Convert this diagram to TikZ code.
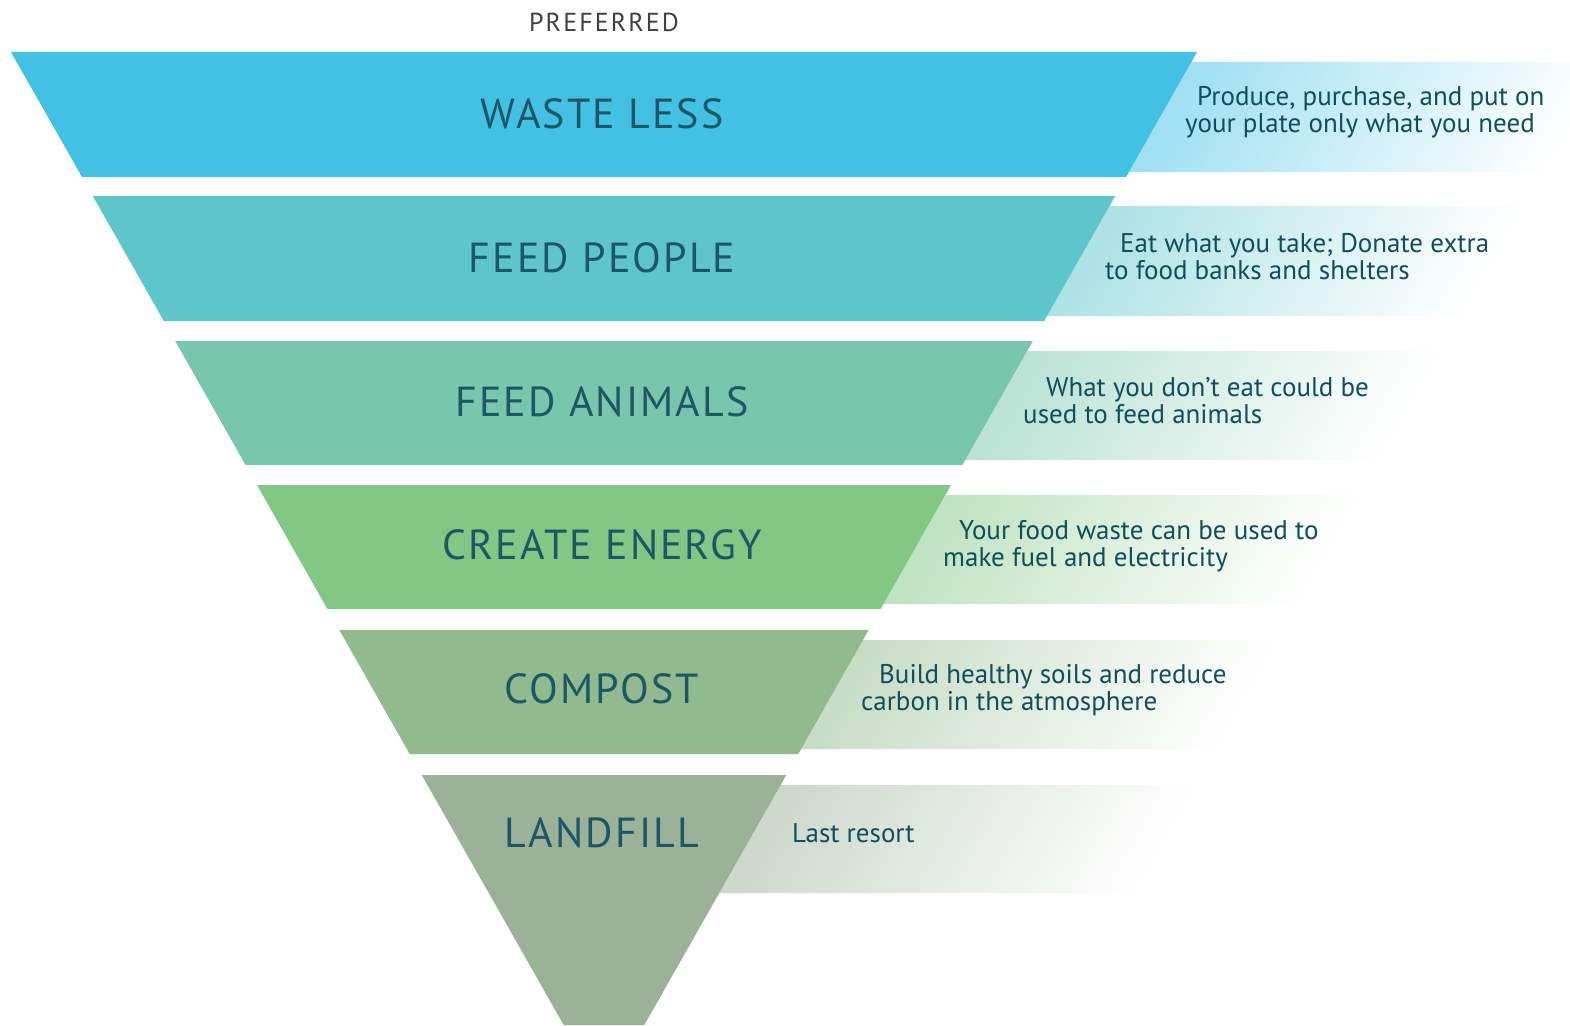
\documentclass[tikz,border=0pt]{standalone}
\usepackage{fontspec}
\setmainfont{PT Sans}
\usepackage{tikz}
\usetikzlibrary{positioning}
\definecolor{wasteblue}{HTML}{42C1E4}
\definecolor{peopleteal}{HTML}{5EC5CB}
\definecolor{animalgreen}{HTML}{78C6AC}
\definecolor{energygreen}{HTML}{82C784}
\definecolor{compostgreen}{HTML}{91BB8E}
\definecolor{landfillgray}{HTML}{9BB298}
\definecolor{leveltext}{HTML}{1D5766}
\definecolor{notetext}{HTML}{0F4E5A}
\tikzstyle{level} = [text=leveltext, inner sep=0pt,
    font=\fontsize{42}{46}\selectfont\addfontfeature{LetterSpace=5}]
\tikzstyle{note} = [text=notetext, anchor=west, align=left, inner sep=0pt,
    font=\fontsize{27}{27}\selectfont]
\tikzstyle{notebox} = [bottom color=white, shading angle=60]
\tikzstyle{heading} = [text=black!75, inner sep=0pt,
    font=\fontsize{26}{26}\selectfont\addfontfeature{LetterSpace=8}]

\begin{document}
\begin{tikzpicture}[x=1pt, y=-1pt]
    \useasboundingbox (0,0) rectangle (1570,1025);
    % Side notes
    \shade [top color=wasteblue!50!white, notebox] (1191.3,62) -- (1621.3,62) -- (1558.8,172) -- (1128.8,172) -- cycle;
    \shade [top color=peopleteal!50!white, notebox] (1109.5,206) -- (1539.5,206) -- (1477,316) -- (1047,316) -- cycle;
    \shade [top color=animalgreen!50!white, notebox] (1027.2,351) -- (1457.2,351) -- (1395.2,460) -- (965.2,460) -- cycle;
    \shade [top color=energygreen!50!white, notebox] (945.4,495) -- (1375.4,495) -- (1313.5,604) -- (883.5,604) -- cycle;
    \shade [top color=compostgreen!50!white, notebox] (863,640) -- (1293,640) -- (1231.1,749) -- (801.1,749) -- cycle;
    \shade [top color=landfillgray!50!white, notebox] (780.6,785) -- (1210.6,785) -- (1149.3,893) -- (719.3,893) -- cycle;

    % Levels
    \fill [wasteblue] (11,52) -- (1197,52) -- (1126,177) -- (82,177) -- cycle;
    \fill [peopleteal] (92.8,196) -- (1115.2,196) -- (1044.2,321) -- (163.8,321) -- cycle;
    \fill [animalgreen] (175.2,341) -- (1032.8,341) -- (962.4,465) -- (245.6,465) -- cycle;
    \fill [energygreen] (257,485) -- (951,485) -- (880.6,609) -- (327.4,609) -- cycle;
    \fill [compostgreen] (339.3,630) -- (868.7,630) -- (798.3,754) -- (409.7,754) -- cycle;
    \fill [landfillgray] (421.7,775) -- (786.3,775) -- (644.3,1025) -- (563.7,1025) -- cycle;

    % Place nodes
    \node [heading] (preferred) at (604,22) {PREFERRED};
    \node [level] (wasteless) at (602,114) {WASTE LESS};
    \node [level] (feedpeople) at (602,258) {FEED PEOPLE};
    \node [level] (feedanimals) at (602,402) {FEED ANIMALS};
    \node [level] (createenergy) at (602,545) {CREATE ENERGY};
    \node [level] (compost) at (602,689) {COMPOST};
    \node [level] (landfill) at (602,833) {LANDFILL};

    \node [note] (wastenote) at (1185,112) {\hspace*{12pt}Produce, purchase, and put on\\your plate only what you need};
    \node [note] (peoplenote) at (1105,257) {\hspace*{15pt}Eat what you take; Donate extra\\to food banks and shelters};
    \node [note] (animalnote) at (1023,401) {\hspace*{23pt}What you don’t eat could be\\used to feed animals};
    \node [note] (energynote) at (943,546) {\hspace*{16pt}Your food waste can be used to\\make fuel and electricity};
    \node [note] (compostnote) at (861,690) {\hspace*{18pt}Build healthy soils and reduce\\carbon in the atmosphere};
    \node [note] (landfillnote) at (792,833) {Last resort};
\end{tikzpicture}
\end{document}
